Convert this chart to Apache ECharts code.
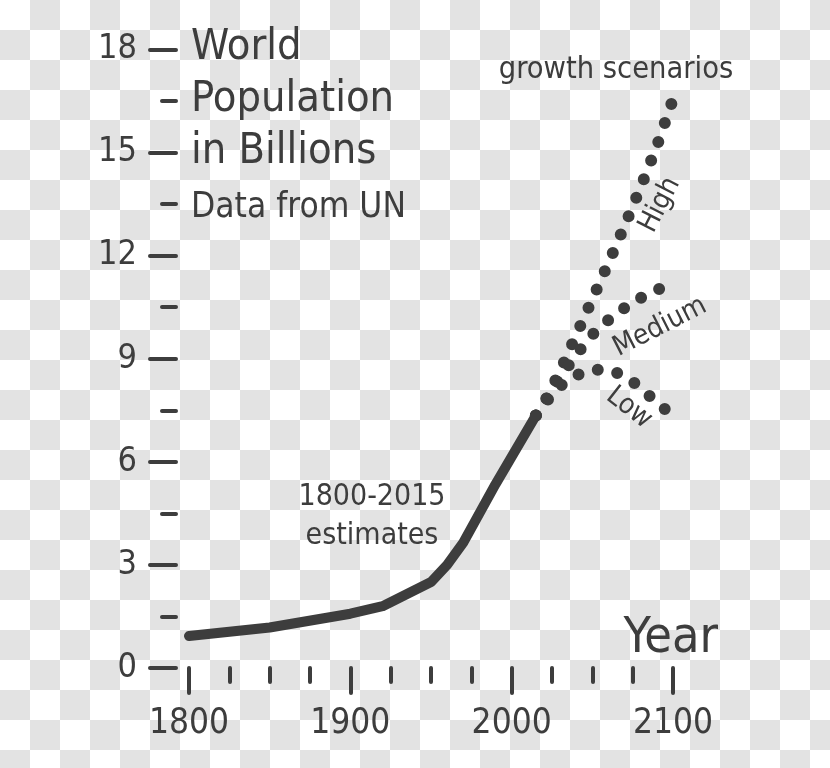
<!DOCTYPE html>
<html>
<head>
<meta charset="utf-8">
<script src="https://cdn.jsdelivr.net/npm/echarts@6/dist/echarts.min.js"></script>
<style>
  html, body { margin: 0; padding: 0; }
  body {
    width: 830px; height: 768px;
    background: repeating-conic-gradient(#e3e3e3 0 25%, #ffffff 0 50%) 0 0 / 60px 60px;
  }
  #chart { width: 830px; height: 768px; }
</style>
</head>
<body>
<div id="chart"></div>
<script>
// ---- data ----
const estYears   = [1800, 1850, 1900, 1920, 1950, 1960, 1970, 1980, 1990, 2000, 2010, 2015];
const estValues  = [0.93, 1.18, 1.58, 1.80, 2.50, 3.00, 3.65, 4.50, 5.35, 6.15, 6.95, 7.35];

const scenYears  = [2015, 2020, 2030, 2040, 2050, 2060, 2070, 2080, 2090, 2100];
const highValues = [7.35, 7.70, 8.64, 9.69, 10.73, 11.79, 12.87, 14.00, 15.19, 16.55];
const medValues  = [7.35, 7.72, 8.45, 9.12, 9.70, 10.13, 10.48, 10.77, 11.00, 11.20];
const lowValues  = [7.35, 7.68, 8.20, 8.52, 8.68, 8.68, 8.50, 8.16, 7.72, 7.35];

const xTicks = [1800, 1900, 2000, 2100];
const yTicks = [0, 3, 6, 9, 12, 15, 18];

const titleLines = ['World', 'Population', 'in Billions'];
const subTitle = 'Data from UN';
const noteLines = ['1800-2015', 'estimates'];
const scenarioTitle = 'growth scenarios';
const scenarioNames = ['High', 'Medium', 'Low'];
const xName = 'Year';

// ---- chart ----
const INK = '#3d3d3d';
const FONT = '"DejaVu Sans Condensed", "DejaVu Sans", sans-serif';
const pairs = (xs, ys) => xs.map((x, i) => [x, ys[i]]);

const dotted = (name, vals) => ({
  name, type: 'line', data: pairs(scenYears, vals),
  symbol: 'none', clip: false, smooth: false,
  lineStyle: { color: INK, width: 12, type: [0, 20], cap: 'round', join: 'round' },
  z: 2
});

const chart = echarts.init(document.getElementById('chart'), null, { renderer: 'canvas' });

const midText = (text, x, y, size, extra) => Object.assign({
  type: 'text', x, y,
  style: { text, fill: INK, font: size + 'px ' + FONT, align: 'center', verticalAlign: 'middle' }
}, extra || {});
const leftText = (text, x, y, size) => ({
  type: 'text', x, y,
  style: { text, fill: INK, font: size + 'px ' + FONT, align: 'left', verticalAlign: 'middle' }
});

chart.setOption({
  animation: false,
  backgroundColor: 'transparent',
  grid: { left: 189, right: 157, top: 49.5, bottom: 100, containLabel: false },
  xAxis: {
    type: 'value', min: xTicks[0], max: xTicks[xTicks.length - 1], interval: 100,
    axisLine: { show: false },
    splitLine: { show: false },
    axisTick: { show: true, length: 25, lineStyle: { color: INK, width: 4, cap: 'round' } },
    minorTick: { show: true, splitNumber: 4, length: 14, lineStyle: { color: INK, width: 4, cap: 'round' } },
    minorSplitLine: { show: false },
    axisLabel: { color: INK, fontSize: 35, fontFamily: FONT, margin: 38,
      formatter: v => xTicks.includes(v) ? String(v) : '' }
  },
  yAxis: {
    type: 'value', min: yTicks[0], max: yTicks[yTicks.length - 1], interval: 3, offset: 13,
    axisLine: { show: false },
    splitLine: { show: false },
    axisTick: { show: true, length: 26, lineStyle: { color: INK, width: 4, cap: 'round' } },
    minorTick: { show: true, splitNumber: 2, length: 14, lineStyle: { color: INK, width: 4, cap: 'round' } },
    minorSplitLine: { show: false },
    axisLabel: { color: INK, fontSize: 34, fontFamily: FONT, margin: 39,
      formatter: v => yTicks.includes(v) ? String(v) : '' }
  },
  series: [
    dotted(scenarioNames[0], highValues),
    dotted(scenarioNames[1], medValues),
    dotted(scenarioNames[2], lowValues),
    {
      name: noteLines.join(' '), type: 'line', data: pairs(estYears, estValues),
      symbol: 'none', clip: false,
      lineStyle: { color: INK, width: 10, cap: 'round', join: 'round' },
      z: 3
    }
  ],
  graphic: [
    leftText(titleLines[0], 191, 48, 43),
    leftText(titleLines[1], 191, 100, 43),
    leftText(titleLines[2], 191, 152, 43),
    leftText(subTitle, 191, 208, 35),
    midText(noteLines[0], 372, 497, 30),
    midText(noteLines[1], 372, 536, 30),
    midText(scenarioTitle, 616, 70, 30.5),
    {
      type: 'text', x: 718, y: 639,
      style: { text: xName, fill: INK, font: '50px ' + FONT, align: 'right', verticalAlign: 'middle' }
    },
    midText(scenarioNames[0], 660, 205, 28, { rotation: 63 * Math.PI / 180 }),
    midText(scenarioNames[1], 660, 327, 28, { rotation: 27 * Math.PI / 180 }),
    midText(scenarioNames[2], 629, 408, 28, { rotation: -38 * Math.PI / 180 })
  ]
});
</script>
</body>
</html>
